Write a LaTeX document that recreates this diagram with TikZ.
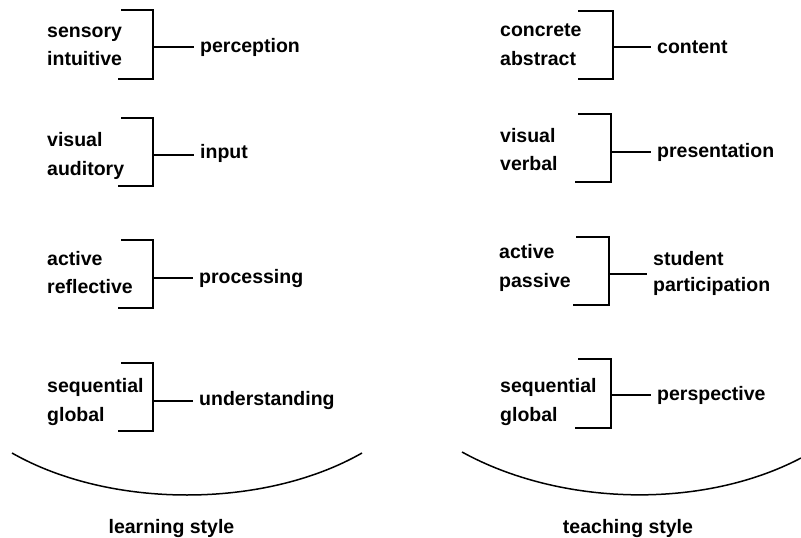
\documentclass[tikz,border=0pt]{standalone}
\usepackage{fontspec}
\setmainfont{Liberation Sans}
\usepackage{tikz}
\tikzset{>=stealth}
\tikzset{
  pole/.style={anchor=base west, inner sep=0pt, font=\bfseries\fontsize{19.5}{24}\selectfont},
  dimen/.style={anchor=base west, inner xsep=6pt, inner ysep=0pt, font=\bfseries\fontsize{19.5}{24}\selectfont},
  caption/.style={anchor=base, inner sep=0pt, font=\bfseries\fontsize{19.5}{24}\selectfont},
  brk/.style={line width=1.8pt},
  bowl/.style={line width=1.5pt}
}

\begin{document}
\begin{tikzpicture}[x=1pt,y=-1pt]
    \useasboundingbox (0,0) rectangle (801,538);

    % learning style
    \node[pole] (sens) at (47,37) {sensory};
    \node[pole] (intu) at (47,65) {intuitive};
    \node[dimen] (perc) at (194,52) {perception};
    \draw[brk] (121,10) -- (153,10) -- (153,79) -- (118,79);
    \coordinate (bperc) at (153,47);
    \draw[brk] (bperc) -- (bperc -| perc.west);

    \node[pole] (visl) at (47,146) {visual};
    \node[pole] (audi) at (47,175) {auditory};
    \node[dimen] (inpt) at (194,158) {input};
    \draw[brk] (121,118) -- (153,118) -- (153,186) -- (118,186);
    \coordinate (binpt) at (153,155);
    \draw[brk] (binpt) -- (binpt -| inpt.west);

    \node[pole] (actl) at (47,265) {active};
    \node[pole] (refl) at (47,293) {reflective};
    \node[dimen] (proc) at (193,283) {processing};
    \draw[brk] (121,240) -- (153,240) -- (153,308) -- (118,308);
    \coordinate (bproc) at (153,278);
    \draw[brk] (bproc) -- (bproc -| proc.west);

    \node[pole] (seql) at (47,392) {sequential};
    \node[pole] (glbl) at (47,421) {global};
    \node[dimen] (undr) at (193,405) {understanding};
    \draw[brk] (121,363) -- (153,363) -- (153,431) -- (118,431);
    \coordinate (bundr) at (153,401);
    \draw[brk] (bundr) -- (bundr -| undr.west);

    \draw[bowl] (12,453) .. controls (110,509) and (264,509) .. (362,453);
    \node[caption] (lstyle) at (171.5,533) {learning style};

    % teaching style
    \node[pole] (conc) at (500,36) {concrete};
    \node[pole] (abst) at (500,65) {abstract};
    \node[dimen] (cont) at (651,53) {content};
    \draw[brk] (578,11) -- (613,11) -- (613,79) -- (578,79);
    \coordinate (bcont) at (613,47);
    \draw[brk] (bcont) -- (bcont -| cont.west);

    \node[pole] (vist) at (500,142) {visual};
    \node[pole] (verb) at (500,170) {verbal};
    \node[dimen] (pres) at (651,157) {presentation};
    \draw[brk] (578,114) -- (611,114) -- (611,182) -- (575,182);
    \coordinate (bpres) at (611,152);
    \draw[brk] (bpres) -- (bpres -| pres.west);

    \node[pole] (actt) at (499,258) {active};
    \node[pole] (pass) at (499,287) {passive};
    \node[dimen] (stud) at (647,265) {student};
    \node[dimen] (part) at (647,291) {participation};
    \draw[brk] (576,237) -- (609,237) -- (609,305) -- (573,305);
    \coordinate (bstud) at (609,274);
    \draw[brk] (bstud) -- (bstud -| stud.west);

    \node[pole] (seqt) at (500,392) {sequential};
    \node[pole] (glbt) at (500,421) {global};
    \node[dimen] (pers) at (651,400) {perspective};
    \draw[brk] (578,359) -- (611,359) -- (611,428) -- (575,428);
    \coordinate (bpers) at (611,395);
    \draw[brk] (bpers) -- (bpers -| pers.west);

    \draw[bowl] (462,452) .. controls (560,506) and (702,510) .. (801,458);
    \node[caption] (tstyle) at (628,533) {teaching style};
\end{tikzpicture}
\end{document}
